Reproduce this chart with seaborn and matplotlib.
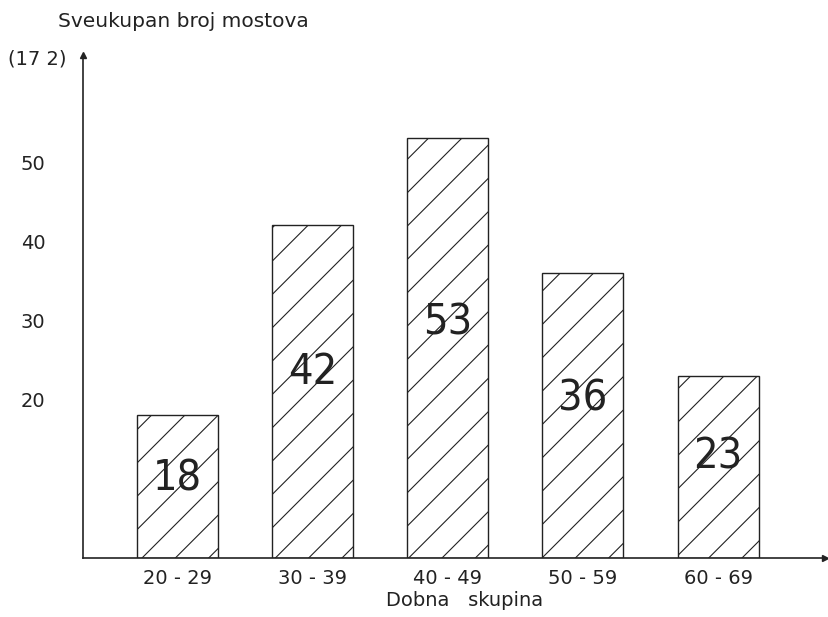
import numpy as np
import pandas as pd
import matplotlib
matplotlib.use("Agg")
import matplotlib.pyplot as plt
import seaborn as sns

# data
age_groups = ["20 - 29", "30 - 39", "40 - 49", "50 - 59", "60 - 69"]
bridge_counts = [18, 42, 53, 36, 23]
total_label = "(17 2)"
y_ticks = [10, 20, 30, 40, 50, 60]
y_tick_labels = ["", "20", "30", "40", "50", ""]

df = pd.DataFrame({"group": age_groups, "count": bridge_counts})

sns.set_style("white")
plt.rcParams["font.family"] = ["DejaVu Sans"]
plt.rcParams["hatch.linewidth"] = 0.8
plt.rcParams["hatch.color"] = "#222222"

fig = plt.figure(figsize=(8.29, 6.17), dpi=100)
ax = fig.add_axes([0.100, 0.0956, 0.895, 0.815])

sns.barplot(data=df, x="group", y="count", color="white", edgecolor="#222222",
            linewidth=1.0, width=0.6, saturation=1, ax=ax)
for p in ax.patches:
    p.set_hatch("/")
    p.set_facecolor("white")

# value labels inside the bars
for i, v in enumerate(bridge_counts):
    ax.text(i, v * 0.56, f"{v}", ha="center", va="center", fontsize=31,
            fontstretch="condensed", color="#222222")

ax.set_xlim(-0.70, 4.79)
ax.set_ylim(0, 63.5)
ax.set_yticks(y_ticks)
ax.set_yticklabels(y_tick_labels, fontsize=14)
ax.tick_params(axis="y", direction="out", length=3, width=1, pad=24, colors="#222222")
ax.tick_params(axis="x", length=0, pad=8, labelsize=14, colors="#222222")

for s in ["top", "right"]:
    ax.spines[s].set_visible(False)
for s in ["left", "bottom"]:
    ax.spines[s].set_linewidth(1.2)
    ax.spines[s].set_color("#222222")

# arrow heads on the axes
ax.plot(1, 0, ">", color="#222222", markersize=5, transform=ax.get_yaxis_transform(), clip_on=False)
ax.plot(0, 1, "^", color="#222222", markersize=5, transform=ax.transAxes, clip_on=False)

ax.set_xlabel("Dobna   skupina", fontsize=14, color="#222222")
ax.xaxis.set_label_coords(0.515, -0.065)
ax.set_ylabel("")

fig.text(0.070, 0.965, "Sveukupan broj mostova", fontsize=14.5, color="#222222", ha="left", va="center")
fig.text(0.010, 0.905, total_label, fontsize=14, color="#222222", ha="left", va="center")

fig.savefig("out.png", dpi=100)
